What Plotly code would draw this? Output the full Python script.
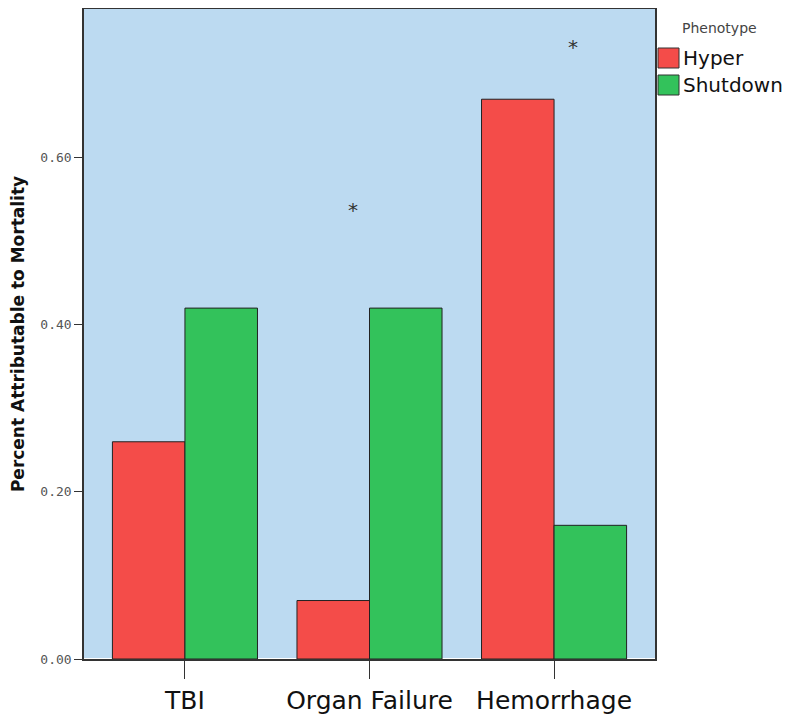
import plotly.graph_objects as go

categories = ["TBI", "Organ Failure", "Hemorrhage"]
hyper = [0.26, 0.07, 0.67]
shutdown = [0.42, 0.42, 0.16]
series_names = ["Hyper", "Shutdown"]
series_colors = ["#F44C49", "#33C25B"]
y_ticks = [0.0, 0.2, 0.4, 0.6]
y_ticklabels = ["0.00", "0.20", "0.40", "0.60"]
star_x = [0.91, 2.10]
star_y = [0.537, 0.732]

# page offset from the default body margin of the html page
OFF = 8
W, H = 800 - OFF, 716 - OFF
# plot area in page pixels: x 84..655, y 9..659
L, R, T, B = 84, 655, 9, 659
def px(x):
    return (x - L) / (R - L)
def py(y):
    return (B - y) / (B - T)

fig = go.Figure()
for name, vals, col in zip(series_names, [hyper, shutdown], series_colors):
    fig.add_trace(go.Bar(x=categories, y=vals, name=name, showlegend=False,
                         marker=dict(color=col, line=dict(color="#222222", width=1))))

for sx, sy in zip(star_x, star_y):
    fig.add_annotation(x=sx, y=sy, text="*", showarrow=False,
                       font=dict(size=20, color="#333333", family="DejaVu Sans"))

# legend drawn manually (large swatches as in reference)
fig.add_annotation(xref="paper", yref="paper", x=px(680), y=py(28), text="Phenotype",
                   showarrow=False, xanchor="left", yanchor="middle",
                   font=dict(size=14, color="#444444", family="DejaVu Sans"))
for i, (name, col) in enumerate(zip(series_names, series_colors)):
    top = 48 + i * 27
    fig.add_shape(type="rect", xref="paper", yref="paper",
                  x0=px(658), x1=px(679), y0=py(top + 20), y1=py(top),
                  fillcolor=col, line=dict(color="#333333", width=1))
    fig.add_annotation(xref="paper", yref="paper", x=px(681), y=py(top + 10), text=name,
                       showarrow=False, xanchor="left", yanchor="middle",
                       font=dict(size=20, color="#111111", family="DejaVu Sans"))

fig.update_layout(
    width=W, height=H,
    margin=dict(l=L - OFF, r=800 - R, t=T - OFF, b=716 - B),
    paper_bgcolor="white",
    plot_bgcolor="#BCDAF1",
    barmode="group", bargap=0.214, bargroupgap=0,
    showlegend=False,
    font=dict(family="DejaVu Sans"),
)
fig.update_xaxes(range=[-0.547, 2.547], showgrid=False, showline=True, mirror=True,
                 automargin=False,
                 linecolor="#333333", linewidth=1.5,
                 ticks="outside", ticklen=18, tickcolor="#333333",
                 tickfont=dict(size=25, color="#111111", family="DejaVu Sans"))
fig.update_yaxes(range=[0, 0.778], showgrid=False, showline=True, mirror=True,
                 automargin=False,
                 linecolor="#333333", linewidth=1.5,
                 tickvals=y_ticks, ticktext=y_ticklabels,
                 ticks="outside", ticklen=8, tickcolor="#333333",
                 tickfont=dict(size=13, color="#555555", family="DejaVu Sans Mono"),
                 title=dict(text="<b>Percent Attributable to Mortality</b>",
                            font=dict(size=17, color="#111111", family="DejaVu Sans"),
                            standoff=14))
fig.write_html("out.html")
